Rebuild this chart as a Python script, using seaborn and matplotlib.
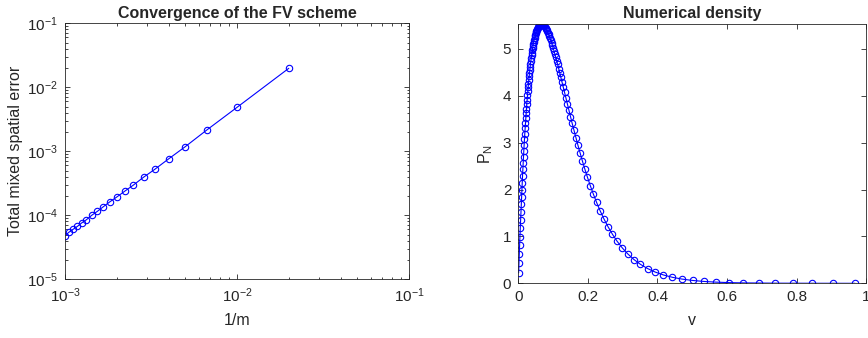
import numpy as np
import pandas as pd
import matplotlib
matplotlib.use("Agg")
import matplotlib.pyplot as plt
import seaborn as sns

# ---- left panel: convergence of the FV scheme ----
inv_m = [0.001, 0.00105, 0.00111, 0.00118, 0.00125, 0.00133, 0.00143, 0.00154,
         0.00167, 0.00182, 0.002, 0.00222, 0.0025, 0.00286, 0.00333, 0.004,
         0.005, 0.00667, 0.01, 0.02]
total_err = [4.8e-5, 5.4e-5, 6.0e-5, 6.7e-5, 7.6e-5, 8.5e-5, 1.0e-4, 1.15e-4,
             1.36e-4, 1.62e-4, 1.93e-4, 2.37e-4, 2.97e-4, 3.93e-4, 5.24e-4, 7.6e-4,
             1.18e-3, 2.15e-3, 4.86e-3, 1.98e-2]

# ---- right panel: numerical density ----
v_grid = [.0010,.0019,.0029,.0038,.0047,.0057,.0066,.0075,.0084,.0094,.0103,.0112,.0122,.0131,.0140,.0150,.0159,.0168,.0178,.0187,.0197,.0206,.0216,.0225,.0235,.0244,.0254,.0263,.0273,.0283,.0292,.0302,.0312,.0322,.0331,.0341,.0351,.0362,.0372,.0382,.0392,.0402,.0413,.0423,.0434,.0445,.0456,.0467,.0478,.0489,.0500,.0512,.0523,.0535,.0547,.0559,.0571,.0584,.0596,.0609,.0622,.0635,.0649,.0663,.0677,.0691,.0706,.0721,.0736,.0752,.0768,.0785,.0802,.0819,.0837,.0855,.0874,.0894,.0914,.0935,.0956,.0979,.1002,.1026,.1051,.1077,.1103,.1132,.1161,.1192,.1224,.1257,.1293,.1330,.1369,.1410,.1453,.1499,.1548,.1600,.1654,.1713,.1775,.1841,.1912,.1988,.2070,.2157,.2251,.2352,.2461,.2579,.2706,.2843,.2991,.3151,.3324,.3512,.3715,.3934,.4172,.4429,.4707,.5007,.5331,.5682,.6060,.6469,.6909,.7384,.7895,.8446,.9039,.9677]
density = [0.223,0.424,0.620,0.810,0.994,1.174,1.348,1.517,1.681,1.841,1.996,2.146,2.292,2.433,2.570,2.703,2.832,2.957,3.078,3.195,3.309,3.418,3.525,3.628,3.727,3.824,3.917,4.007,4.093,4.177,4.258,4.336,4.411,4.484,4.553,4.620,4.685,4.747,4.806,4.863,4.917,4.969,5.018,5.065,5.110,5.153,5.193,5.231,5.267,5.300,5.331,5.360,5.387,5.411,5.434,5.454,5.471,5.487,5.500,5.511,5.520,5.526,5.530,5.532,5.531,5.528,5.522,5.513,5.502,5.489,5.472,5.452,5.430,5.405,5.376,5.344,5.309,5.271,5.229,5.183,5.133,5.080,5.022,4.960,4.894,4.823,4.748,4.667,4.581,4.491,4.394,4.292,4.185,4.071,3.952,3.826,3.695,3.557,3.413,3.264,3.108,2.948,2.782,2.612,2.438,2.261,2.082,1.903,1.724,1.547,1.374,1.207,1.046,0.894,0.753,0.624,0.507,0.404,0.315,0.240,0.178,0.128,0.090,0.061,0.040,0.025,0.015,0.009,0.005,0.003,0.001,0.001,0.000,0.000]
v_ticks = [0, 0.2, 0.4, 0.6, 0.8, 1]
v_ticklabels = ["0", "0.2", "0.4", "0.6", "0.8", "1"]
p_ticks = [0, 1, 2, 3, 4, 5]

sns.set_style("ticks")
plt.rcParams["font.family"] = ["Liberation Sans", "DejaVu Sans"]
plt.rcParams["mathtext.fontset"] = "custom"
plt.rcParams["mathtext.rm"] = "Liberation Sans"
plt.rcParams["mathtext.it"] = "Liberation Sans:italic"
plt.rcParams["axes.unicode_minus"] = False

GRAY = "#262626"
fig = plt.figure(figsize=(8.68, 3.38), dpi=100)
ax1 = fig.add_axes([0.0749, 0.1737, 0.3963, 0.7574])
ax2 = fig.add_axes([0.5971, 0.1618, 0.4009, 0.7671])

line_kws = dict(color="blue", marker="o", markerfacecolor="none",
                markeredgecolor="blue", markeredgewidth=0.8, markersize=4.6,
                linewidth=0.8)

df1 = pd.DataFrame({"x": inv_m, "y": total_err})
sns.lineplot(data=df1, x="x", y="y", ax=ax1, sort=False, estimator=None, **line_kws)
ax1.set_xscale("log")
ax1.set_yscale("log")
ax1.set_xlim(1e-3, 1e-1)
ax1.set_ylim(1e-5, 1e-1)
ax1.set_xlabel("1/m", fontsize=11.5, color=GRAY, labelpad=6)
ax1.set_ylabel("Total mixed spatial error", fontsize=11.5, color=GRAY, labelpad=3)
ax1.set_title("Convergence of the FV scheme", fontsize=11.5, fontweight="bold", pad=4)

df2 = pd.DataFrame({"v": v_grid, "P": density})
sns.lineplot(data=df2, x="v", y="P", ax=ax2, sort=False, estimator=None, **line_kws)
ax2.set_xlim(0, 1)
ax2.set_ylim(0, 5.53)
ax2.set_xticks(v_ticks)
ax2.set_xticklabels(v_ticklabels)
ax2.set_yticks(p_ticks)
ax2.set_xlabel("v", fontsize=11.5, color=GRAY, labelpad=6)
ax2.set_ylabel(r"P$_\mathregular{N}$", fontsize=11.5, color=GRAY, labelpad=6)
ax2.set_title("Numerical density", fontsize=11.5, fontweight="bold", pad=4)

for ax in (ax1, ax2):
    for s in ax.spines.values():
        s.set_visible(True)
        s.set_color(GRAY)
        s.set_linewidth(0.6)
    ax.tick_params(which="both", direction="in", top=True, right=True,
                   colors=GRAY, labelsize=11, width=0.6)
    ax.tick_params(which="major", length=3.5, pad=5)
    ax.tick_params(which="minor", length=1.8)

fig.savefig("out.png", dpi=100)
